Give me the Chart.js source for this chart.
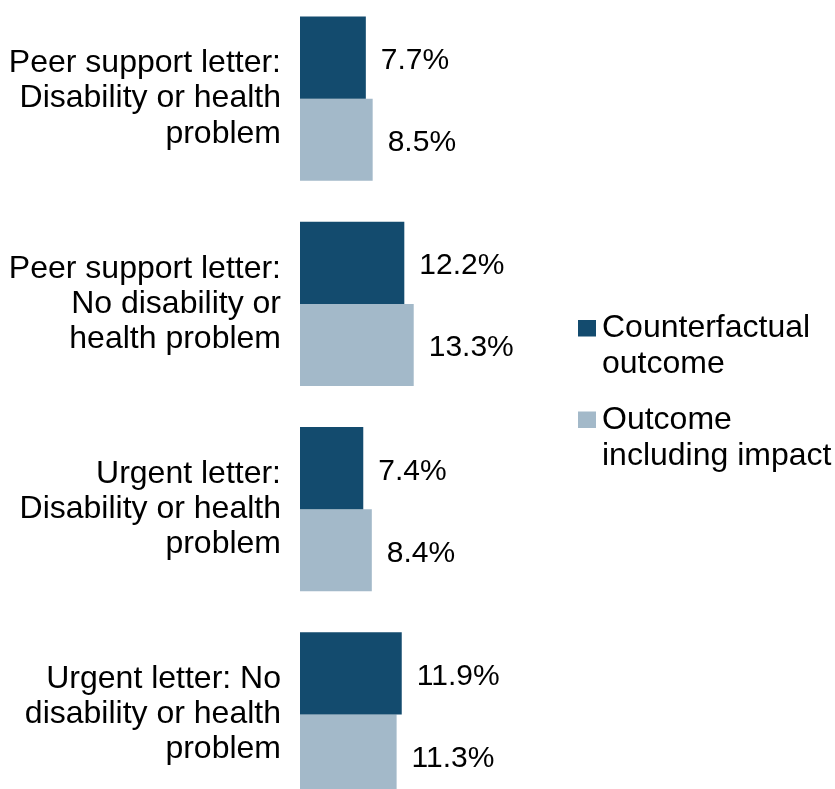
<!DOCTYPE html>
<html>
<head>
<meta charset="utf-8">
<script src="https://cdn.jsdelivr.net/npm/chart.js@4/dist/chart.umd.min.js"></script>
<style>
  html, body { margin: 0; padding: 0; background: #ffffff; overflow: hidden; }
  body { width: 835px; height: 789px; position: relative; }
  #wrap { position: absolute; left: 0; top: -4px; width: 835px; height: 821px; }
</style>
</head>
<body>
<div id="wrap"><canvas id="chart"></canvas></div>
<script>
// Groups shown on the vertical axis (one line per array entry)
const categories = [
  ['Peer support letter:', 'Disability or health', 'problem'],
  ['Peer support letter:', 'No disability or', 'health problem'],
  ['Urgent letter:', 'Disability or health', 'problem'],
  ['Urgent letter: No', 'disability or health', 'problem']
];

// Percentages per group
const counterfactualValues = [7.7, 12.2, 7.4, 11.9];
const impactValues = [8.5, 13.3, 8.4, 11.3];

// Series names and how they wrap in the legend
const seriesNames = ['Counterfactual outcome', 'Outcome including impact'];
const legendLines = [['Counterfactual', 'outcome'], ['Outcome', 'including impact']];

const darkBlue = '#134b6e';
const paleBlue = '#a3b9c9';
const FONT = '"Liberation Sans", Arial, Helvetica, sans-serif';

// Percentage labels to the right of each bar
const valueLabels = {
  id: 'valueLabels',
  afterDatasetsDraw(chart) {
    const ctx = chart.ctx;
    ctx.save();
    ctx.font = '30px ' + FONT;
    ctx.fillStyle = '#000000';
    ctx.textAlign = 'left';
    ctx.textBaseline = 'alphabetic';
    chart.data.datasets.forEach((ds, di) => {
      const meta = chart.getDatasetMeta(di);
      meta.data.forEach((bar, i) => {
        const txt = ds.data[i].toFixed(1) + '%';
        ctx.fillText(txt, bar.x + 15, bar.y + 11.5);
      });
    });
    ctx.restore();
  }
};

// Two-line legend entries with square swatches
const sideLegend = {
  id: 'sideLegend',
  afterDraw(chart) {
    const ctx = chart.ctx;
    const offsetY = 4; // canvas sits 4px above the page top
    const items = [
      { boxTop: 320, baselines: [336.7, 373] },
      { boxTop: 411.5, baselines: [428.5, 465] }
    ];
    ctx.save();
    ctx.font = '32px ' + FONT;
    ctx.textAlign = 'left';
    ctx.textBaseline = 'alphabetic';
    items.forEach((it, k) => {
      ctx.fillStyle = chart.data.datasets[k].backgroundColor;
      ctx.fillRect(578, it.boxTop + offsetY, 18, 16.5);
      ctx.fillStyle = '#000000';
      legendLines[k].forEach((line, j) => {
        ctx.fillText(line, 602, it.baselines[j] + offsetY);
      });
    });
    ctx.restore();
  }
};

new Chart(document.getElementById('chart'), {
  type: 'bar',
  data: {
    labels: categories,
    datasets: [
      {
        label: seriesNames[0],
        data: counterfactualValues,
        backgroundColor: darkBlue,
        borderWidth: 0,
        categoryPercentage: 0.8,
        barPercentage: 1.0
      },
      {
        label: seriesNames[1],
        data: impactValues,
        backgroundColor: paleBlue,
        borderWidth: 0,
        categoryPercentage: 0.8,
        barPercentage: 1.0
      }
    ]
  },
  options: {
    indexAxis: 'y',
    responsive: true,
    maintainAspectRatio: false,
    animation: false,
    events: [],
    layout: { padding: { top: 0, bottom: 0, left: 0, right: 278.5 } },
    plugins: {
      legend: { display: false },
      tooltip: { enabled: false },
      title: { display: false }
    },
    scales: {
      x: {
        display: false,
        min: 0,
        max: 30
      },
      y: {
        grid: { display: false, drawTicks: false },
        border: { display: false },
        ticks: {
          color: '#000000',
          padding: 19,
          font: { family: FONT, size: 32, lineHeight: 1.1 }
        },
        afterFit(scale) {
          scale.width = 300;
          scale.paddingTop = 0;
          scale.paddingBottom = 0;
        }
      }
    }
  },
  plugins: [valueLabels, sideLegend]
});
</script>
</body>
</html>
